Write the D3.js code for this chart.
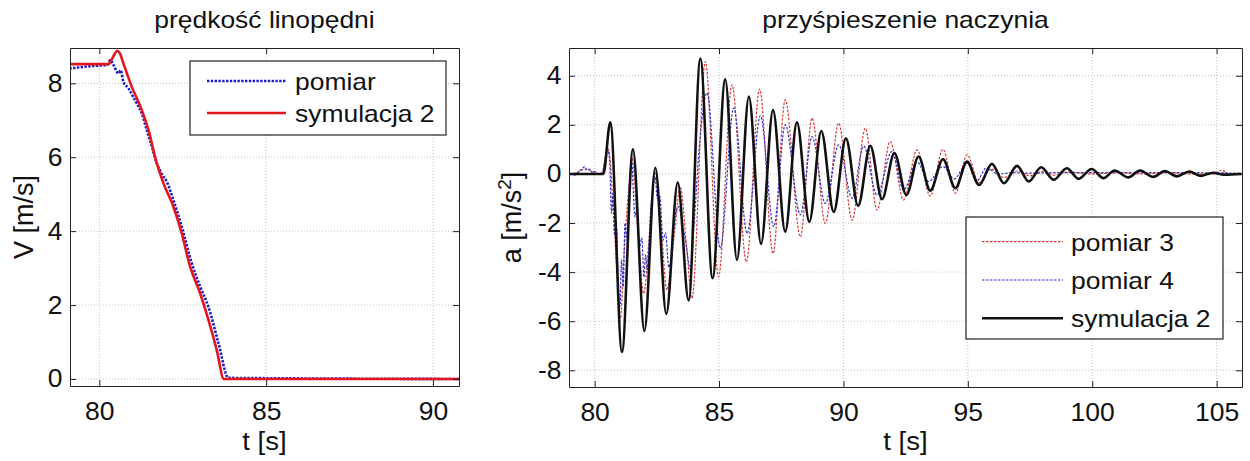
<!DOCTYPE html>
<html><head><meta charset="utf-8">
<script src="https://cdn.jsdelivr.net/npm/d3@7"></script>
<style>
body{margin:0;background:#fff}
text{font-family:"Liberation Sans",Arial,sans-serif;fill:#111}
</style>
</head><body>
<svg id="c" width="1250" height="461"></svg>
<script>
// ---------- left panel data: velocity ----------
const vTimeMeas = [79.1, 79.4, 79.7, 80.0, 80.25, 80.32, 80.42, 80.57, 80.64, 80.72, 80.87, 81.02, 81.12, 81.27, 81.42, 81.57, 81.72, 81.87, 82.02, 82.22, 82.47, 82.77, 83.02, 83.27, 83.57, 83.87, 90.8];
const vMeas      = [8.4, 8.43, 8.46, 8.48, 8.5, 8.63, 8.5, 8.27, 8.35, 8.04, 7.87, 7.62, 7.46, 7.19, 6.74, 6.3, 5.84, 5.55, 5.34, 4.84, 4.12, 3.13, 2.5, 1.95, 0.97, 0.03, 0];
const vTimeSim   = [79.1, 80.27, 80.4, 80.54, 80.62, 80.72, 80.97, 81.27, 81.47, 81.72, 81.92, 82.22, 82.47, 82.72, 83.02, 83.27, 83.52, 83.73, 90.8];
const vSim       = [8.52, 8.52, 8.7, 8.88, 8.8, 8.54, 7.91, 7.28, 6.74, 5.84, 5.3, 4.66, 3.94, 3.04, 2.32, 1.6, 0.78, 0, 0];
const vXTicks = [80, 85, 90];
const vYTicks = [0, 2, 4, 6, 8];

// ---------- right panel data: acceleration ----------
const aTime3 = [79.0, 79.3, 79.6, 79.8, 80.0, 80.3, 80.42, 80.5, 80.6, 80.75, 80.9, 81.03, 81.2, 81.35, 81.5, 81.75, 81.97, 82.2, 82.44, 82.7, 82.9, 83.2, 83.44, 83.7, 83.91, 84.45, 84.98, 85.52, 86.1, 86.63, 87.17, 87.66, 88.27, 88.74, 89.27, 89.81, 90.35, 90.88, 91.35, 91.88, 92.42, 92.96, 93.49, 94.0, 94.5, 94.97, 95.45, 95.95, 96.45, 97.0, 97.5, 98.0, 98.5, 99.0, 100.0, 101.0, 102.0, 103.0, 104.0, 104.9, 105.2, 105.5, 106.0];
const aMeas3 = [0, 0.05, 0.2, 0.15, 0.05, 0.0, 0.6, 1.1, 0.8, -1.5, -4.0, -5.9, -3.0, -0.8, 0.64, -2.5, -4.87, -2.5, 0.03, -2.5, -4.73, -2.5, -0.52, -3.0, -5.07, 4.58, -4.19, 3.63, -3.58, 3.46, -3.24, 3.02, -2.56, 2.27, -2.01, 2.07, -1.88, 1.86, -1.47, 1.32, -1.06, 0.98, -0.9, 1.0, -0.79, 0.78, -0.35, 0.2, -0.15, 0.12, -0.08, 0.1, -0.05, 0.08, 0.0, 0.05, 0.0, 0.05, 0.0, 0.0, 0.15, 0.0, 0.0];

const aTime4 = [79.0, 79.2, 79.35, 79.5, 79.6, 79.7, 79.8, 79.9, 80.0, 80.1, 80.3, 80.4, 80.5, 80.6, 80.68, 80.73, 80.8, 80.88, 80.95, 81.02, 81.08, 81.15, 81.22, 81.3, 81.4, 81.49, 81.56, 81.62, 81.7, 81.8, 81.9, 81.98, 82.05, 82.12, 82.25, 82.35, 82.43, 82.52, 82.62, 82.75, 82.85, 82.98, 83.08, 83.2, 83.38, 83.5, 83.65, 83.85, 84.0, 84.2, 84.52, 85.05, 85.59, 86.13, 86.66, 87.2, 87.66, 88.27, 88.74, 89.27, 89.81, 90.35, 90.81, 91.35, 91.95, 92.42, 92.96, 93.42, 94.0, 94.45, 94.97, 95.35, 95.75, 96.2, 96.8, 97.5, 98.5, 100.0, 102.0, 104.0, 106.0];
const aMeas4 = [0, -0.05, 0.1, 0.2, 0.3, 0.15, 0.2, 0.05, 0.1, 0.0, 0.05, 0.5, 1.0, 0.6, -1.6, -0.8, -2.5, -2.2, -4.5, -5.4, -3.5, -4.6, -2.0, -2.6, -0.5, 0.5, -0.8, -1.75, -1.4, -3.0, -2.6, -4.2, -3.3, -3.9, -1.5, -0.6, -0.1, -1.0, -0.9, -2.7, -2.4, -3.8, -3.4, -2.0, -1.33, -1.9, -2.7, -3.9, -2.0, 1.0, 3.3, -3.03, 2.68, -2.42, 2.37, -2.15, 2.0, -1.67, 1.52, -1.2, 1.18, -0.99, 1.14, -0.86, 0.91, -0.65, 0.5, -0.31, 0.3, -0.2, 0.44, -0.3, 0.25, 0.0, 0.05, 0.03, 0.05, 0.05, 0.05, 0.05, 0.03];

const aTimeSim = [79.0, 80.35, 80.63, 81.10, 81.54, 82.0, 82.44, 82.88, 83.34, 83.78, 84.25, 84.74, 85.25, 85.72, 86.2, 86.69, 87.17, 87.66, 88.13, 88.63, 89.11, 89.61, 90.1, 90.59, 91.08, 91.55, 92.05, 92.53, 93.02, 93.49, 94.0, 94.5, 94.97, 95.45, 95.97, 96.45, 96.98, 97.45, 97.95, 98.45, 98.98, 99.45, 99.98, 100.45, 100.9, 101.45, 101.92, 102.45, 102.92, 103.4, 103.9, 104.35, 104.85, 105.3, 106.0];
const aSim     = [0, 0, 2.1, -7.25, 1.0, -6.4, 0.25, -5.7, -0.35, -5.15, 4.7, -4.25, 3.85, -3.5, 3.15, -2.85, 2.6, -2.35, 2.1, -1.95, 1.75, -1.55, 1.45, -1.3, 1.15, -1.03, 0.85, -0.86, 0.71, -0.68, 0.6, -0.58, 0.5, -0.45, 0.41, -0.38, 0.33, -0.31, 0.27, -0.24, 0.23, -0.2, 0.2, -0.17, 0.14, -0.14, 0.14, -0.12, 0.12, -0.1, 0.1, -0.08, 0.05, -0.03, 0];
const aXTicks = [80, 85, 90, 95, 100, 105];
const aYTicks = [-8, -6, -4, -2, 0, 2, 4];

// ---------- drawing ----------
const svg = d3.select("#c");
const SX = 1.06;     // horizontal stretch of tick glyphs
const TS = 1.15;     // horizontal stretch of title/legend glyphs
let clipId = 0;

function panel(cfg) {
  const x = d3.scaleLinear().domain(cfg.xDom).range([cfg.x0, cfg.x1]);
  const y = d3.scaleLinear().domain(cfg.yDom).range([cfg.y1, cfg.y0]);
  const g = svg.append("g");

  // grid
  g.append("g").selectAll("line").data(cfg.xTicks).join("line")
    .attr("x1", d => x(d)).attr("x2", d => x(d)).attr("y1", cfg.y0).attr("y2", cfg.y1)
    .attr("stroke", "#c2c2c2").attr("stroke-width", 1).attr("stroke-dasharray", "1,2");
  g.append("g").selectAll("line").data(cfg.yTicks).join("line")
    .attr("y1", d => y(d)).attr("y2", d => y(d)).attr("x1", cfg.x0).attr("x2", cfg.x1)
    .attr("stroke", "#c2c2c2").attr("stroke-width", 1).attr("stroke-dasharray", "1,2");

  // clip
  const id = "clip" + (clipId++);
  svg.append("clipPath").attr("id", id).append("rect")
    .attr("x", cfg.x0).attr("y", cfg.y0).attr("width", cfg.x1 - cfg.x0).attr("height", cfg.y1 - cfg.y0);

  const plot = g.append("g").attr("clip-path", `url(#${id})`);
  cfg.series.forEach(s => {
    const pts = s.t.map((t, i) => [t, s.v[i]]);
    const line = d3.line().x(d => x(d[0])).y(d => y(d[1])).curve(d3.curveMonotoneX);
    plot.append("path").attr("d", line(pts)).attr("fill", "none")
      .attr("stroke", s.color).attr("stroke-width", s.width)
      .attr("stroke-dasharray", s.dash || null).attr("stroke-linejoin", "round");
  });

  const fmt = d => String(d);
  const styleAxis = sel => {
    sel.selectAll(".domain").attr("stroke", "#222");
    sel.selectAll(".tick line").attr("stroke", "#222");
    sel.selectAll("text").attr("font-size", 25).attr("fill", "#111")
      .attr("font-family", '"Liberation Sans",Arial,sans-serif')
      .attr("transform", `scale(${SX},1)`);
  };
  g.append("g").attr("transform", `translate(0,${cfg.y1})`)
    .call(d3.axisBottom(x).tickValues(cfg.xTicks).tickFormat(fmt).tickSizeInner(-6).tickSizeOuter(0).tickPadding(16))
    .call(styleAxis);
  g.append("g").attr("transform", `translate(0,${cfg.y0})`)
    .call(d3.axisTop(x).tickValues(cfg.xTicks).tickFormat("").tickSizeInner(-6).tickSizeOuter(0))
    .call(styleAxis);
  g.append("g").attr("transform", `translate(${cfg.x0},0)`)
    .call(d3.axisLeft(y).tickValues(cfg.yTicks).tickFormat(fmt).tickSizeInner(-6).tickSizeOuter(0).tickPadding(7))
    .call(styleAxis);
  g.append("g").attr("transform", `translate(${cfg.x1},0)`)
    .call(d3.axisRight(y).tickValues(cfg.yTicks).tickFormat("").tickSizeInner(-6).tickSizeOuter(0))
    .call(styleAxis);

  // title
  const cx = (cfg.x0 + cfg.x1) / 2;
  g.append("text").attr("transform", `translate(${cx},28) scale(${TS},1)`)
    .attr("text-anchor", "middle").attr("font-size", 23).text(cfg.title);
  // x label
  g.append("text").attr("transform", `translate(${cx},450) scale(${SX},1)`)
    .attr("text-anchor", "middle").attr("font-size", 26).text("t [s]");
  // y label
  const yl = g.append("text")
    .attr("transform", `translate(${cfg.ylx},${(cfg.y0 + cfg.y1) / 2}) rotate(-90)`)
    .attr("text-anchor", "middle").attr("font-size", 27);
  cfg.ylabel(yl);

  // legend
  const L = cfg.legend;
  const lg = g.append("g");
  lg.append("rect").attr("x", L.x).attr("y", L.y).attr("width", L.w).attr("height", L.h)
    .attr("fill", "#fff").attr("stroke", "#222").attr("stroke-width", 1.2);
  cfg.series.forEach((s, i) => {
    const ly = L.firstY + i * L.step;
    lg.append("line").attr("x1", L.lx0).attr("x2", L.lx1).attr("y1", ly).attr("y2", ly)
      .attr("stroke", s.color).attr("stroke-width", s.width).attr("stroke-dasharray", s.dash || null);
    lg.append("text").attr("transform", `translate(${L.tx},${ly + 9}) scale(${TS},1)`)
      .attr("font-size", 23).text(s.name);
  });
}

panel({
  x0: 70, x1: 459, y0: 48, y1: 386,
  xDom: [79.12, 90.78], yDom: [-0.19, 8.955],
  xTicks: vXTicks, yTicks: vYTicks,
  title: "prędkość linopędni",
  ylx: 33,
  ylabel: t => t.text("V [m/s]"),
  series: [
    {name: "pomiar", t: vTimeMeas, v: vMeas, color: "#1c1ccc", width: 2.6, dash: "2.4,1.4"},
    {name: "symulacja 2", t: vTimeSim, v: vSim, color: "#e3161e", width: 2.6}
  ],
  legend: {x: 190, y: 61, w: 256, h: 74, firstY: 81, step: 32, lx0: 207, lx1: 286, tx: 295}
});

panel({
  x0: 569, x1: 1242, y0: 48, y1: 387,
  xDom: [78.97, 106.02], yDom: [-8.68, 5.13],
  xTicks: aXTicks, yTicks: aYTicks,
  title: "przyśpieszenie naczynia",
  ylx: 521,
  ylabel: t => { t.append("tspan").text("a [m/s"); t.append("tspan").attr("baseline-shift", "super").attr("font-size", 19).text("2"); t.append("tspan").text("]"); },
  series: [
    {name: "pomiar 3", t: aTime3, v: aMeas3, color: "#d63a3a", width: 1.2, dash: "2.5,1.5"},
    {name: "pomiar 4", t: aTime4, v: aMeas4, color: "#3030d0", width: 1.2, dash: "2.5,1.5"},
    {name: "symulacja 2", t: aTimeSim, v: aSim, color: "#111", width: 2.6}
  ],
  legend: {x: 966, y: 217, w: 257, h: 122, firstY: 241.7, step: 38.3, lx0: 982, lx1: 1063, tx: 1071}
});
</script>
</body></html>
